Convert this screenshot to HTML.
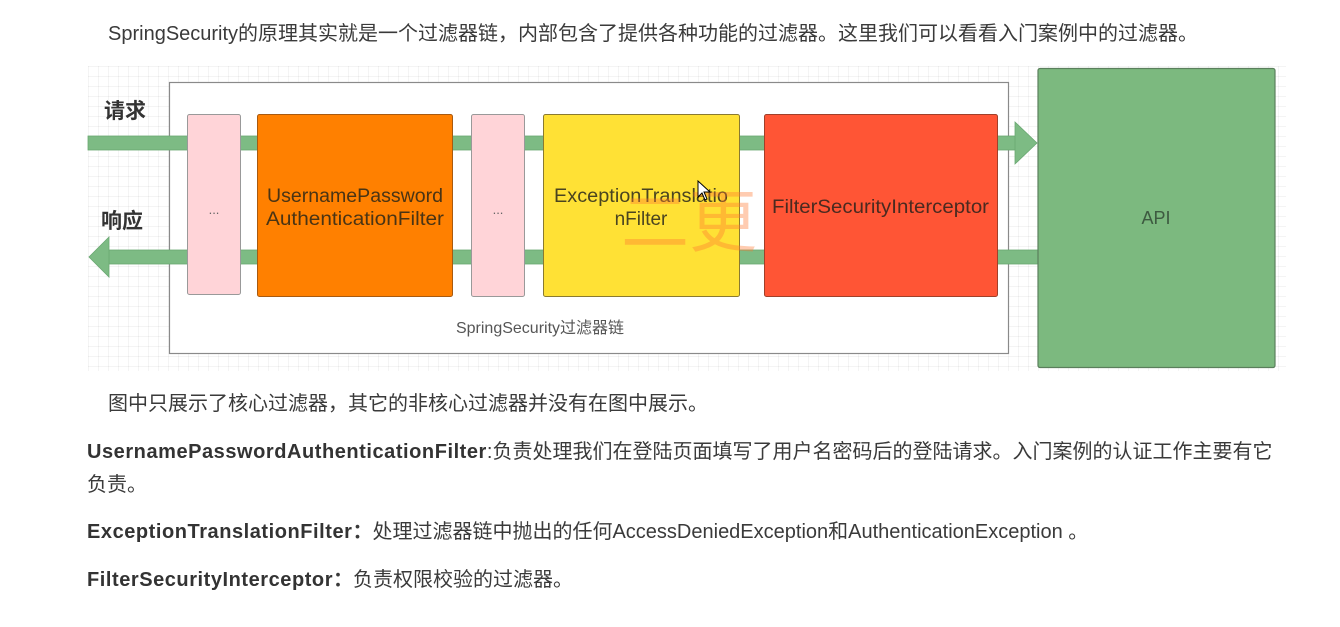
<!DOCTYPE html>
<html><head><meta charset="utf-8">
<style>
html,body{margin:0;padding:0;background:#fff;}
body{width:1340px;height:627px;overflow:hidden;position:relative;font-family:"Liberation Sans","Noto Sans CJK SC",sans-serif;color:#3a3a3a;}
.t{position:absolute;white-space:nowrap;font-size:20px;line-height:28px;}
.b{font-weight:bold;letter-spacing:0.55px;color:#333;}
.grid{position:absolute;left:88px;top:66px;width:1198px;height:305px;
background-image:linear-gradient(to right, rgba(0,0,0,0.045) 1px, transparent 1px),linear-gradient(to bottom, rgba(0,0,0,0.045) 1px, transparent 1px);
background-size:10px 10px;}
</style></head><body>
<div class="t" style="left:108px;top:20px;">SpringSecurity的原理其实就是一个过滤器链，内部包含了提供各种功能的过滤器。这里我们可以看看入门案例中的过滤器。</div>

<div class="grid"></div>
<svg width="1340" height="627" style="position:absolute;left:0;top:0" xmlns="http://www.w3.org/2000/svg">
  <!-- chain container -->
  <rect x="169.5" y="82.5" width="839" height="271" fill="#fff" stroke="#8a8a8a" stroke-width="1.2"/>
  <!-- bands -->
  <rect x="88" y="136" width="928" height="14" fill="#7dbb84" stroke="#6aa872" stroke-width="0.8"/>
  <polygon points="1015,122 1037,143 1015,164" fill="#7dbb84" stroke="#6aa872" stroke-width="0.8"/>
  <rect x="108" y="250" width="930" height="14" fill="#7dbb84" stroke="#6aa872" stroke-width="0.8"/>
  <polygon points="109,237 89,257 109,277" fill="#7dbb84" stroke="#6aa872" stroke-width="0.8"/>
  <!-- boxes -->
  <rect x="187.5" y="114.5" width="53" height="180" rx="2" fill="#ffd4d8" stroke="#999" stroke-width="1"/>
  <rect x="257.5" y="114.5" width="195" height="182" rx="2" fill="#ff8000" stroke="#a85a10" stroke-width="1"/>
  <rect x="471.5" y="114.5" width="53" height="182" rx="2" fill="#ffd4d8" stroke="#999" stroke-width="1"/>
  <rect x="543.5" y="114.5" width="196" height="182" rx="2" fill="#ffe135" stroke="#8a7a30" stroke-width="1"/>
  <rect x="764.5" y="114.5" width="233" height="182" rx="2" fill="#ff5535" stroke="#a0402a" stroke-width="1"/>
  <!-- API -->
  <rect x="1038" y="68.5" width="237" height="299" rx="2" fill="#7cb97f" stroke="#5a7f5c" stroke-width="1.2"/>
  <!-- texts -->
  <text x="125" y="118" font-size="21" font-weight="bold" fill="#333" text-anchor="middle" font-family="Noto Sans CJK SC, sans-serif">请求</text>
  <text x="122" y="228" font-size="21" font-weight="bold" fill="#333" text-anchor="middle" font-family="Noto Sans CJK SC, sans-serif">响应</text>
  <text x="214" y="214" font-size="13" fill="#666" text-anchor="middle">...</text>
  <text x="498" y="214" font-size="13" fill="#666" text-anchor="middle">...</text>
  <text x="267" y="202" font-size="19" fill="#4a3414" textLength="176" lengthAdjust="spacingAndGlyphs">UsernamePassword</text>
  <text x="266" y="225" font-size="19" fill="#4a3414" textLength="178" lengthAdjust="spacingAndGlyphs">AuthenticationFilter</text>
  <text x="554" y="202" font-size="19" fill="#4a4420" textLength="174" lengthAdjust="spacingAndGlyphs">ExceptionTranslatio</text>
  <text x="641" y="225" font-size="19" fill="#4a4420" text-anchor="middle">nFilter</text>
  <text x="772" y="213" font-size="19" fill="#4a2a20" textLength="217" lengthAdjust="spacingAndGlyphs">FilterSecurityInterceptor</text>
  <text x="1156" y="224" font-size="18" fill="#3d5a40" text-anchor="middle">API</text>
  <text x="540" y="333" font-size="16" fill="#555" text-anchor="middle" font-family="Liberation Sans, Noto Sans CJK SC, sans-serif">SpringSecurity过滤器链</text>
  <!-- watermark -->
  <text x="621" y="246" font-size="68" fill="rgba(255,120,50,0.38)" font-family="Noto Sans CJK SC, sans-serif">二更</text>
  <!-- cursor -->
  <polygon points="698,181 698,197 702,193 705,200 707,199 704,192 710,192" fill="#fff" stroke="#000" stroke-width="1"/>
</svg>

<div class="t" style="left:108px;top:390px;">图中只展示了核心过滤器，其它的非核心过滤器并没有在图中展示。</div>
<div class="t" style="left:87px;top:438px;"><span class="b">UsernamePasswordAuthenticationFilter</span>:负责处理我们在登陆页面填写了用户名密码后的登陆请求。入门案例的认证工作主要有它</div>
<div class="t" style="left:87px;top:471px;">负责。</div>
<div class="t" style="left:87px;top:518px;"><span class="b">ExceptionTranslationFilter</span><span style="font-weight:bold">：</span>处理过滤器链中抛出的任何AccessDeniedException和AuthenticationException 。</div>
<div class="t" style="left:87px;top:566px;"><span class="b">FilterSecurityInterceptor</span><span style="font-weight:bold">：</span>负责权限校验的过滤器。</div>
</body></html>
